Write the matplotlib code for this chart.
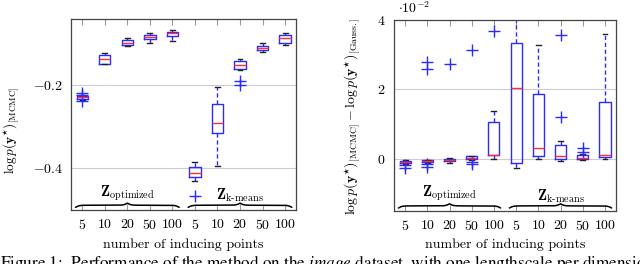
import numpy as np
import matplotlib
matplotlib.use("Agg")
import matplotlib.pyplot as plt
import matplotlib.transforms as mtransforms

plt.rcParams['mathtext.fontset'] = 'cm'
plt.rcParams['font.family'] = 'cmr10'
plt.rcParams['axes.unicode_minus'] = False

# ---- data -------------------------------------------------------------
positions = list(range(10))
tick_labels = ['5', '10', '20', '50', '100', '5', '10', '20', '50', '100']

# left panel: log p(y*) [MCMC]
left_med = [-0.229, -0.137, -0.098, -0.0836, -0.0747, -0.411, -0.2916, -0.150, -0.110, -0.086]
left_q1 = [-0.232, -0.1477, -0.1036, -0.0892, -0.081, -0.421, -0.314, -0.1614, -0.115, -0.097]
left_q3 = [-0.226, -0.1277, -0.0908, -0.0795, -0.0706, -0.397, -0.2458, -0.1414, -0.1053, -0.0795]
left_lo = [-0.234, -0.149, -0.104, -0.0988, -0.094, -0.431, -0.393, -0.163, -0.120, -0.1036]
left_hi = [-0.224, -0.121, -0.086, -0.073, -0.066, -0.385, -0.204, -0.137, -0.097, -0.0747]
left_fliers = [[-0.219, -0.222, -0.238], [], [], [], [], [-0.467], [], [-0.1896, -0.200], [], []]

# right panel: difference, in units of 1e-2
right_med = [-0.11, -0.07, -0.03, 0.03, 0.10, 2.03, 0.30, 0.06, 0.01, 0.10]
right_q1 = [-0.14, -0.11, -0.07, -0.02, 0.10, -0.12, 0.06, 0.0, -0.02, 0.04]
right_q3 = [-0.07, -0.05, 0.0, 0.06, 1.04, 3.32, 1.85, 0.39, 0.09, 1.62]
right_lo = [-0.16, -0.13, -0.12, -0.05, 0.0, -0.28, 0.0, -0.07, -0.03, 0.0]
right_hi = [-0.05, -0.03, 0.03, 0.08, 1.38, 4.6, 3.28, 0.51, 0.14, 3.59]
right_fliers = [[-0.2, -0.27], [2.57, 2.78, -0.17, -0.24], [2.73], [3.11, -0.09, -0.17], [3.66],
                [], [], [1.19, 3.56], [0.2, 0.29], []]

groups = [(-0.3, 4.3, 2.0, r'$\mathbf{Z}_{\mathrm{optimized}}$'),
          (4.7, 9.3, 7.0, r'$\mathbf{Z}_{\mathrm{k\text{-}means}}$')]

BLUE = '#2b2bff'
RED = '#ff3030'


def stats(med, q1, q3, lo, hi, fl):
    out = []
    for i in range(len(med)):
        out.append(dict(med=med[i], q1=q1[i], q3=q3[i], whislo=lo[i], whishi=hi[i], fliers=fl[i]))
    return out


def brace(ax, x0, x1, base=0.025, h=0.022, beta=55):
    tr = mtransforms.blended_transform_factory(ax.transData, ax.transAxes)
    t = np.linspace(0, 0.5, 150)
    yh = 1 / (1 + np.exp(-beta * t)) + 1 / (1 + np.exp(-beta * (t - 0.5)))
    y = np.concatenate([yh, yh[-2::-1]])
    tt = np.linspace(0, 1, len(y))
    xs = x0 + (x1 - x0) * tt
    ys = base + (y - 1) * h
    ax.plot(xs, ys, color='black', lw=1.1, transform=tr, clip_on=False, solid_capstyle='round')


def panel(ax, st, ylim, yticks, yticklabels, grid_vals, zy):
    ax.bxp(st, positions=positions, widths=0.5, showfliers=True,
           boxprops=dict(color=BLUE, lw=1.0),
           medianprops=dict(color=RED, lw=1.0),
           whiskerprops=dict(color=BLUE, lw=1.0, linestyle=(0, (3, 2))),
           capprops=dict(color='#222222', lw=1.0),
           flierprops=dict(marker='+', markeredgecolor=BLUE, markersize=9, markeredgewidth=1.0),
           capwidths=0.22)
    for g in grid_vals:
        ax.axhline(g, color='#cccccc', lw=0.8, zorder=0)
    ax.set_xlim(-0.5, 9.5)
    ax.set_ylim(*ylim)
    ax.set_xticks(positions)
    ax.set_xticklabels(['$' + s + '$' for s in tick_labels], fontsize=10)
    ax.set_yticks(yticks)
    ax.set_yticklabels(yticklabels, fontsize=10)
    ax.tick_params(axis='x', direction='in', length=4, top=True, bottom=True, pad=6, color='#999999')
    ax.tick_params(axis='y', direction='in', length=0, pad=6)
    for s in ax.spines.values():
        s.set_color('#444444')
        s.set_linewidth(0.9)
    tr = mtransforms.blended_transform_factory(ax.transData, ax.transAxes)
    for (x0, x1, xm, lab), yy in zip(groups, zy):
        brace(ax, x0, x1)
        ax.text(xm, yy, lab, transform=tr, ha='center', va='center', fontsize=10.5)
    ax.set_xlabel('number of inducing points', fontsize=10, labelpad=4)


fig = plt.figure(figsize=(6.4, 2.64), dpi=100)
ax1 = fig.add_axes([0.111, 0.2045, 0.352, 0.7235])
ax2 = fig.add_axes([0.6156, 0.202, 0.347, 0.724])

panel(ax1, stats(left_med, left_q1, left_q3, left_lo, left_hi, left_fliers),
      (-0.5, -0.04), [-0.4, -0.2], ['$-0.4$', '$-0.2$'], [-0.4, -0.2], [0.09, 0.075])
ax1.set_ylabel(r'$\log p(\mathbf{y}^{\star})_{[\mathrm{MCMC}]}$', fontsize=9.5)
ax1.yaxis.set_label_coords(-0.22, 0.42)

panel(ax2, stats(right_med, right_q1, right_q3, right_lo, right_hi, right_fliers),
      (-1.5, 4.0), [0, 2, 4], ['$0$', '$2$', '$4$'], [0, 2], [0.091, 0.077])
ax2.set_ylabel(r'$\log p(\mathbf{y}^{\star})_{[\mathrm{MCMC}]} - \log p(\mathbf{y}^{\star})_{[\mathrm{Gauss.}]}$',
               fontsize=10)
ax2.yaxis.set_label_coords(-0.14, 0.495)
fig.text(398 / 640, 1 - 8 / 264, r'$\cdot 10^{-2}$', fontsize=10, ha='left', va='center')

# caption, cut off at the bottom edge like in the page crop
fig.text(0.0, -0.014,
         r'Figure 1:  Performance of the method on the $\mathit{image}$ dataset, with one lengthscale per dimension',
         fontsize=12.3, family='STIXGeneral', math_fontfamily='stix', ha='left', va='baseline')

fig.savefig('out.png', dpi=100)
